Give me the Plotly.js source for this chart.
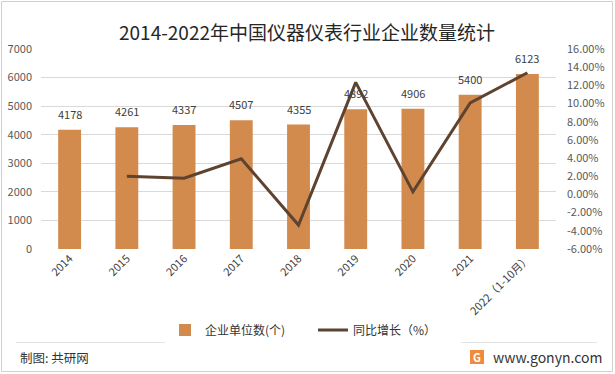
<!DOCTYPE html>
<html><head><meta charset="utf-8">
<script src="https://cdn.plot.ly/plotly-3.0.1.min.js"></script>
<style>html,body{margin:0;padding:0;background:#fff;}#chart{width:615px;height:374px;}</style>
</head><body><div id="chart"></div>
<script>
var categories = ["2014","2015","2016","2017","2018","2019","2020","2021","2022（1-10月）"];
var companyCounts = [4178,4261,4337,4507,4355,4892,4906,5400,6123];
var growthPct = [null,1.99,1.78,3.92,-3.37,12.33,0.29,10.07,13.39];
var rightTickVals = [-6,-4,-2,0,2,4,6,8,10,12,14,16];
var rightTickText = ["-6.00%","-4.00%","-2.00%","0.00%","2.00%","4.00%","6.00%","8.00%","10.00%","12.00%","14.00%","16.00%"];

var FONT = "'Noto Sans CJK SC', 'Noto Sans', sans-serif";
var L = 41, R = 556, T = 49, B = 249;
function px(x){ return (x - L) / (R - L); }
function py(y){ return (B - y) / (B - T); }

var bars = {
  type: 'bar', x: categories, y: companyCounts, name: '企业单位数(个)',
  marker: {color: '#D38B4D'}, width: 0.4
};
var line = {
  type: 'scatter', mode: 'lines', x: categories, y: growthPct, yaxis: 'y2',
  name: '同比增长（%）', line: {color: '#5E4430', width: 3}, connectgaps: false
};

var annotations = categories.map(function(c, i){
  return {x: i, y: companyCounts[i], xref: 'x', yref: 'y', text: String(companyCounts[i]),
    showarrow: false, yanchor: 'bottom', yshift: 6, font: {family: FONT, size: 11, color: '#404040'}};
});
annotations.push({xref: 'paper', yref: 'paper', x: px(18), y: py(357), xanchor: 'left', yanchor: 'middle',
  text: '制图: 共研网', showarrow: false, font: {family: FONT, size: 12.5, color: '#333333'}});
annotations.push({xref: 'paper', yref: 'paper', x: px(604), y: py(357), xanchor: 'right', yanchor: 'middle',
  text: 'www.gonyn.com', showarrow: false, font: {family: FONT, size: 14, color: '#333333'}});
annotations.push({xref: 'paper', yref: 'paper', x: px(477), y: py(357), xanchor: 'center', yanchor: 'middle',
  text: '<b>G</b>', showarrow: false, font: {family: FONT, size: 11, color: '#ffffff'}});

var shapes = [
  {type: 'rect', xref: 'paper', yref: 'paper', x0: px(1.5), x1: px(612.5), y0: py(1.5), y1: py(371.5),
    line: {color: '#D0D0D0', width: 1}, fillcolor: 'rgba(0,0,0,0)', layer: 'below'},
  {type: 'line', xref: 'paper', yref: 'paper', x0: px(16), x1: px(597), y0: py(342.5), y1: py(342.5),
    line: {color: '#E3E3E3', width: 1}},
  {type: 'rect', xref: 'paper', yref: 'paper', x0: px(470), x1: px(484), y0: py(350), y1: py(364),
    line: {width: 0}, fillcolor: '#F08A3C'}
];

var layout = {
  width: 615, height: 374,
  margin: {l: L, r: 615 - R, t: T, b: 374 - B, pad: 0},
  paper_bgcolor: '#ffffff', plot_bgcolor: '#ffffff',
  title: {text: '2014-2022年中国仪器仪表行业企业数量统计', x: px(307), xanchor: 'center', xref: 'paper',
    y: 1 - 33/374, yanchor: 'middle', font: {family: FONT, size: 19, color: '#262626'}},
  showlegend: true,
  legend: {orientation: 'h', x: px(165), xanchor: 'left', y: py(330), yanchor: 'middle',
    entrywidth: 103, entrywidthmode: 'pixels',
    font: {family: FONT, size: 12, color: '#333333'}, traceorder: 'normal', itemwidth: 30},
  xaxis: {type: 'category', range: [-0.5, categories.length - 0.5], tickangle: -45,
    tickfont: {family: FONT, size: 11, color: '#404040'},
    showgrid: false, zeroline: false, showline: false, ticks: '', fixedrange: true},
  yaxis: {range: [0, 7000], dtick: 1000, tick0: 0, showgrid: true, gridcolor: '#D9D9D9', gridwidth: 1,
    zeroline: false, showline: false, ticks: '', ticklabelstandoff: 8,
    tickfont: {family: FONT, size: 11, color: '#595959'}},
  yaxis2: {overlaying: 'y', side: 'right', range: [-6, 16], tickvals: rightTickVals, ticktext: rightTickText,
    showgrid: false, zeroline: false, showline: false, ticks: '', ticklabelstandoff: 10,
    tickfont: {family: FONT, size: 11, color: '#595959'}},
  annotations: annotations,
  shapes: shapes
};

Plotly.newPlot('chart', [bars, line], layout, {displayModeBar: false, staticPlot: true});
</script></body></html>
